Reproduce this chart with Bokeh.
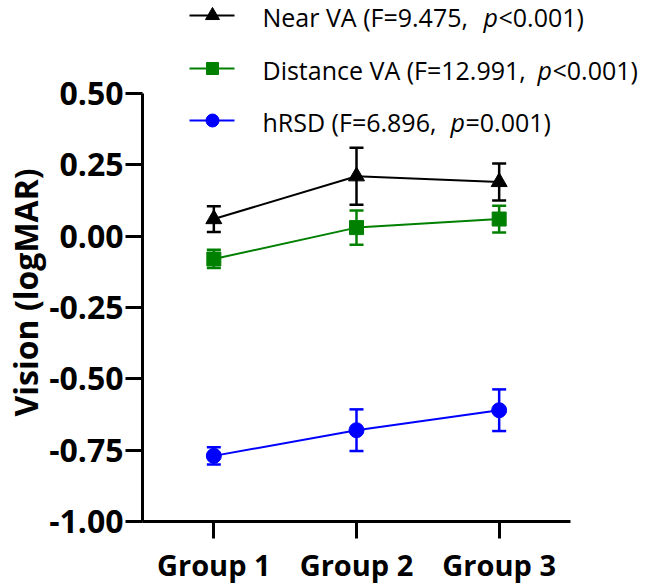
from bokeh.plotting import figure
from bokeh.models import Range1d, FixedTicker, Whisker, ColumnDataSource, TeeHead, PrintfTickFormatter, Title
from bokeh.core.properties import value
from bokeh.embed import file_html
from bokeh.resources import INLINE

# ---- data ----
groups = ["Group 1", "Group 2", "Group 3"]
group_x = [1, 2, 3]
near_mean = [0.06, 0.21, 0.19]
near_err = [0.045, 0.10, 0.065]
dist_mean = [-0.08, 0.03, 0.06]
dist_err = [0.032, 0.06, 0.047]
hrsd_mean = [-0.77, -0.68, -0.61]
hrsd_err = [0.03, 0.073, 0.073]
y_ticks = [-1.0, -0.75, -0.5, -0.25, 0.0, 0.25, 0.5]
y_title = "Vision (logMAR)"
legend_head = ["Near VA (F=9.475, ", "Distance VA (F=12.991, ", "hRSD (F=6.896, "]
legend_tail = ["<0.001)", "<0.001)", "=0.001)"]

# ---- layout (pixels) ----
W, H = 649, 587
LEFT, BOTTOM = 142, 66
FW, FH = W - LEFT, H - BOTTOM
AX_W, AX_H = 428.0, 428.0          # axis extents
XPU = AX_W / 3.0                   # px per x unit
YPU = AX_H / 1.5                   # px per y unit
x0 = 0.5
y0 = -1.0
x_range = Range1d(x0, x0 + FW / XPU)
y_range = Range1d(y0, y0 + FH / YPU)

def px2x(px):
    return x0 + (px - LEFT) / XPU

def px2y(py):
    return y0 + (FH - py) / YPU

FONT = "Open Sans"
colors = ["#000000", "#008000", "#0000FF"]
markers = ["triangle", "square", "circle"]
msizes = [16, 14, 15]

p = figure(width=W, height=H, x_range=x_range, y_range=y_range,
           output_backend="svg", toolbar_location=None,
           min_border_left=LEFT, min_border_bottom=BOTTOM,
           min_border_top=0, min_border_right=0)
p.outline_line_color = None
p.xgrid.visible = False
p.ygrid.visible = False
p.background_fill_color = "white"

series = [near_mean, dist_mean, hrsd_mean]
errs = [near_err, dist_err, hrsd_err]
for mean, err, col, mk, ms in zip(series, errs, colors, markers, msizes):
    src = ColumnDataSource(dict(
        x=group_x, y=mean,
        lo=[m - e for m, e in zip(mean, err)],
        hi=[m + e for m, e in zip(mean, err)]))
    w = Whisker(source=src, base="x", lower="lo", upper="hi",
                line_color=col, line_width=2.5,
                upper_head=TeeHead(size=14, line_color=col, line_width=2.5),
                lower_head=TeeHead(size=14, line_color=col, line_width=2.5))
    p.add_layout(w)
    p.line("x", "y", source=src, line_color=col, line_width=2)
    p.scatter("x", "y", source=src, marker=mk, size=ms,
              fill_color=col, line_color=col)

# ---- legend ----
row_py = [15, 68, 120]
line_px = (189, 234)
mark_px = 212
text_px = 262
p_px = [483, 537, 450]
LFS = "25px"
for i in range(3):
    yy = px2y(row_py[i])
    ty = px2y(row_py[i] + 1)
    p.line([px2x(line_px[0]), px2x(line_px[1])], [yy, yy],
           line_color=colors[i], line_width=2)
    p.scatter([px2x(mark_px)], [yy], marker=markers[i], size=msizes[i] - 2,
              fill_color=colors[i], line_color=colors[i])
    p.text([px2x(text_px)], [ty], text=[legend_head[i]],
           text_font=value(FONT), text_font_size=LFS,
           text_baseline="middle", text_align="left", text_color="black")
    p.text([px2x(p_px[i])], [ty], text=["p"],
           text_font=value(FONT), text_font_size=LFS, text_font_style="italic",
           text_baseline="middle", text_align="left", text_color="black")
    p.text([px2x(p_px[i] + 15)], [ty], text=[legend_tail[i]],
           text_font=value(FONT), text_font_size=LFS,
           text_baseline="middle", text_align="left", text_color="black")

# ---- axes ----
for ax in (p.xaxis[0], p.yaxis[0]):
    ax.axis_line_width = 3
    ax.axis_line_color = "black"
    ax.major_tick_line_width = 3
    ax.major_tick_line_color = "black"
    ax.major_tick_in = 0
    ax.major_tick_out = 17
    ax.minor_tick_line_color = None
    ax.major_label_text_font = FONT
    ax.major_label_text_font_style = "bold"
    ax.major_label_text_color = "black"

p.xaxis.bounds = (0.5, 3.5)
p.xaxis.ticker = FixedTicker(ticks=group_x)
p.xaxis.major_label_overrides = {gx: g for gx, g in zip(group_x, groups)}
p.xaxis.major_label_text_font_size = "29px"
p.xaxis.major_label_standoff = 6

p.yaxis.bounds = (-1.0, 0.5)
p.yaxis.ticker = FixedTicker(ticks=y_ticks)
p.yaxis.formatter = PrintfTickFormatter(format="%.2f")
p.yaxis.major_label_text_font_size = "32px"
p.yaxis.major_label_standoff = 2

# y title as a side title so that it can be shifted along the axis
p.add_layout(Title(text=y_title, align="left", offset=105, standoff=0,
                   text_font=FONT, text_font_style="bold", text_font_size="32px",
                   text_color="black"), "left")

open("out.html", "w").write(file_html(p, INLINE))
